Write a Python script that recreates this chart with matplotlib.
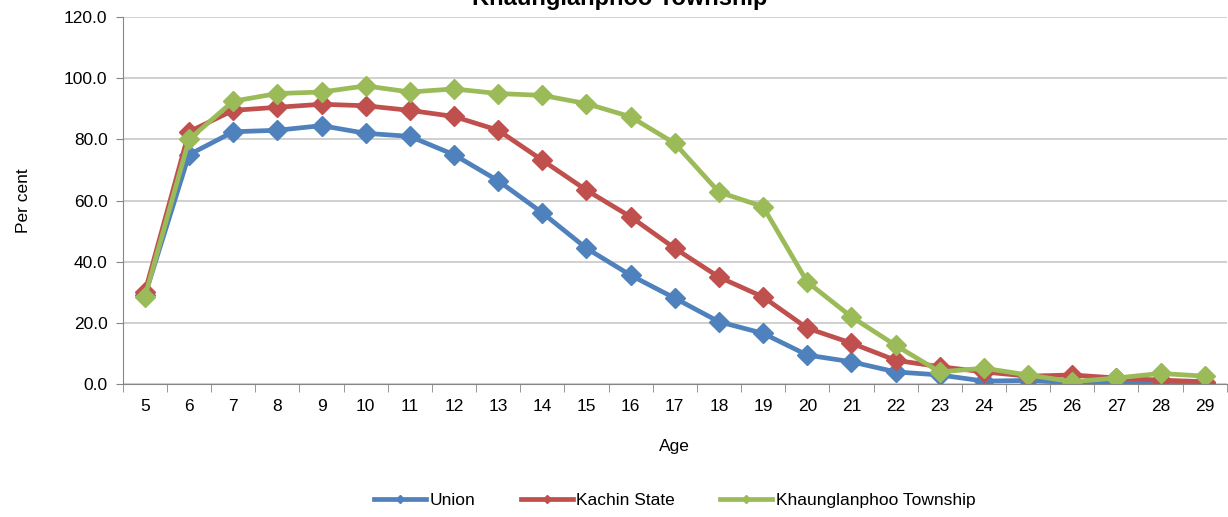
import matplotlib
matplotlib.use('Agg')
import matplotlib.pyplot as plt
import numpy as np

plt.rcParams['font.family'] = ['Liberation Sans', 'DejaVu Sans']

ages = list(range(5, 30))
union = [29.0, 75.0, 82.5, 83.0, 84.5, 82.0, 81.0, 75.0, 66.5, 56.0, 44.4, 35.6, 28.1, 20.4,
         16.6, 9.5, 7.3, 4.0, 3.0, 1.0, 1.2, 0.5, 0.5, 0.6, 0.5]
kachin = [30.0, 82.5, 89.5, 90.5, 91.5, 91.0, 89.5, 87.5, 83.0, 73.2, 63.4, 54.7, 44.4, 35.0,
          28.5, 18.3, 13.4, 7.8, 5.7, 4.0, 2.6, 3.0, 2.0, 1.3, 0.8]
township = [28.5, 80.0, 92.5, 95.0, 95.5, 97.5, 95.5, 96.5, 95.0, 94.4, 91.7, 87.4, 78.7, 62.8,
            58.0, 33.4, 22.0, 12.7, 4.0, 5.2, 3.0, 0.8, 2.0, 3.5, 2.6]

series = [('Union', union, '#4F81BD'),
          ('Kachin State', kachin, '#C0504D'),
          ('Khaunglanphoo Township', township, '#9BBB59')]

fig = plt.figure(figsize=(12.28, 5.17), dpi=100)
ax = fig.add_axes([0.100, 0.257, 0.899, 0.710])

x = np.arange(len(ages))
for name, vals, col in series:
    ax.plot(x, vals, color=col, lw=3.4, marker='D', markersize=10, label=name,
            solid_joinstyle='round')

ax.set_xlim(-0.5, len(ages) - 0.5)
ax.set_ylim(0, 120)
ax.set_yticks(np.arange(0, 121, 20))
ax.set_yticklabels([f'{v:.1f}' for v in np.arange(0, 121, 20)], fontsize=12.5)
ax.set_xticks(x)
ax.set_xticklabels([str(a) for a in ages], fontsize=12.5)
ax.set_xticks(np.arange(-0.5, len(ages), 1), minor=True)
ax.tick_params(axis='x', which='major', length=0, pad=11)
ax.tick_params(axis='x', which='minor', length=6, color='#868686')
ax.tick_params(axis='y', length=5, color='#868686', pad=6)

ax.grid(axis='y', color='#c8c8c8', lw=1.2)
ax.set_axisbelow(True)
for s in ['top', 'right']:
    ax.spines[s].set_visible(False)
for s in ['left', 'bottom']:
    ax.spines[s].set_color('#868686')

ax.set_xlabel('Age', fontsize=12.5, labelpad=18)
ax.set_ylabel('Per cent', fontsize=12.5, labelpad=24)

fig.text(0.505, 1.003, 'Khaunglanphoo Township', ha='center', va='center',
         fontsize=17, fontweight='bold')

ax.legend(loc='center', bbox_to_anchor=(0.5, -0.316), ncol=3, frameon=False,
          fontsize=12.5, handlelength=3.0, columnspacing=2.6, handletextpad=0.2,
          markerscale=0.4)

fig.savefig('out.png', dpi=100)
